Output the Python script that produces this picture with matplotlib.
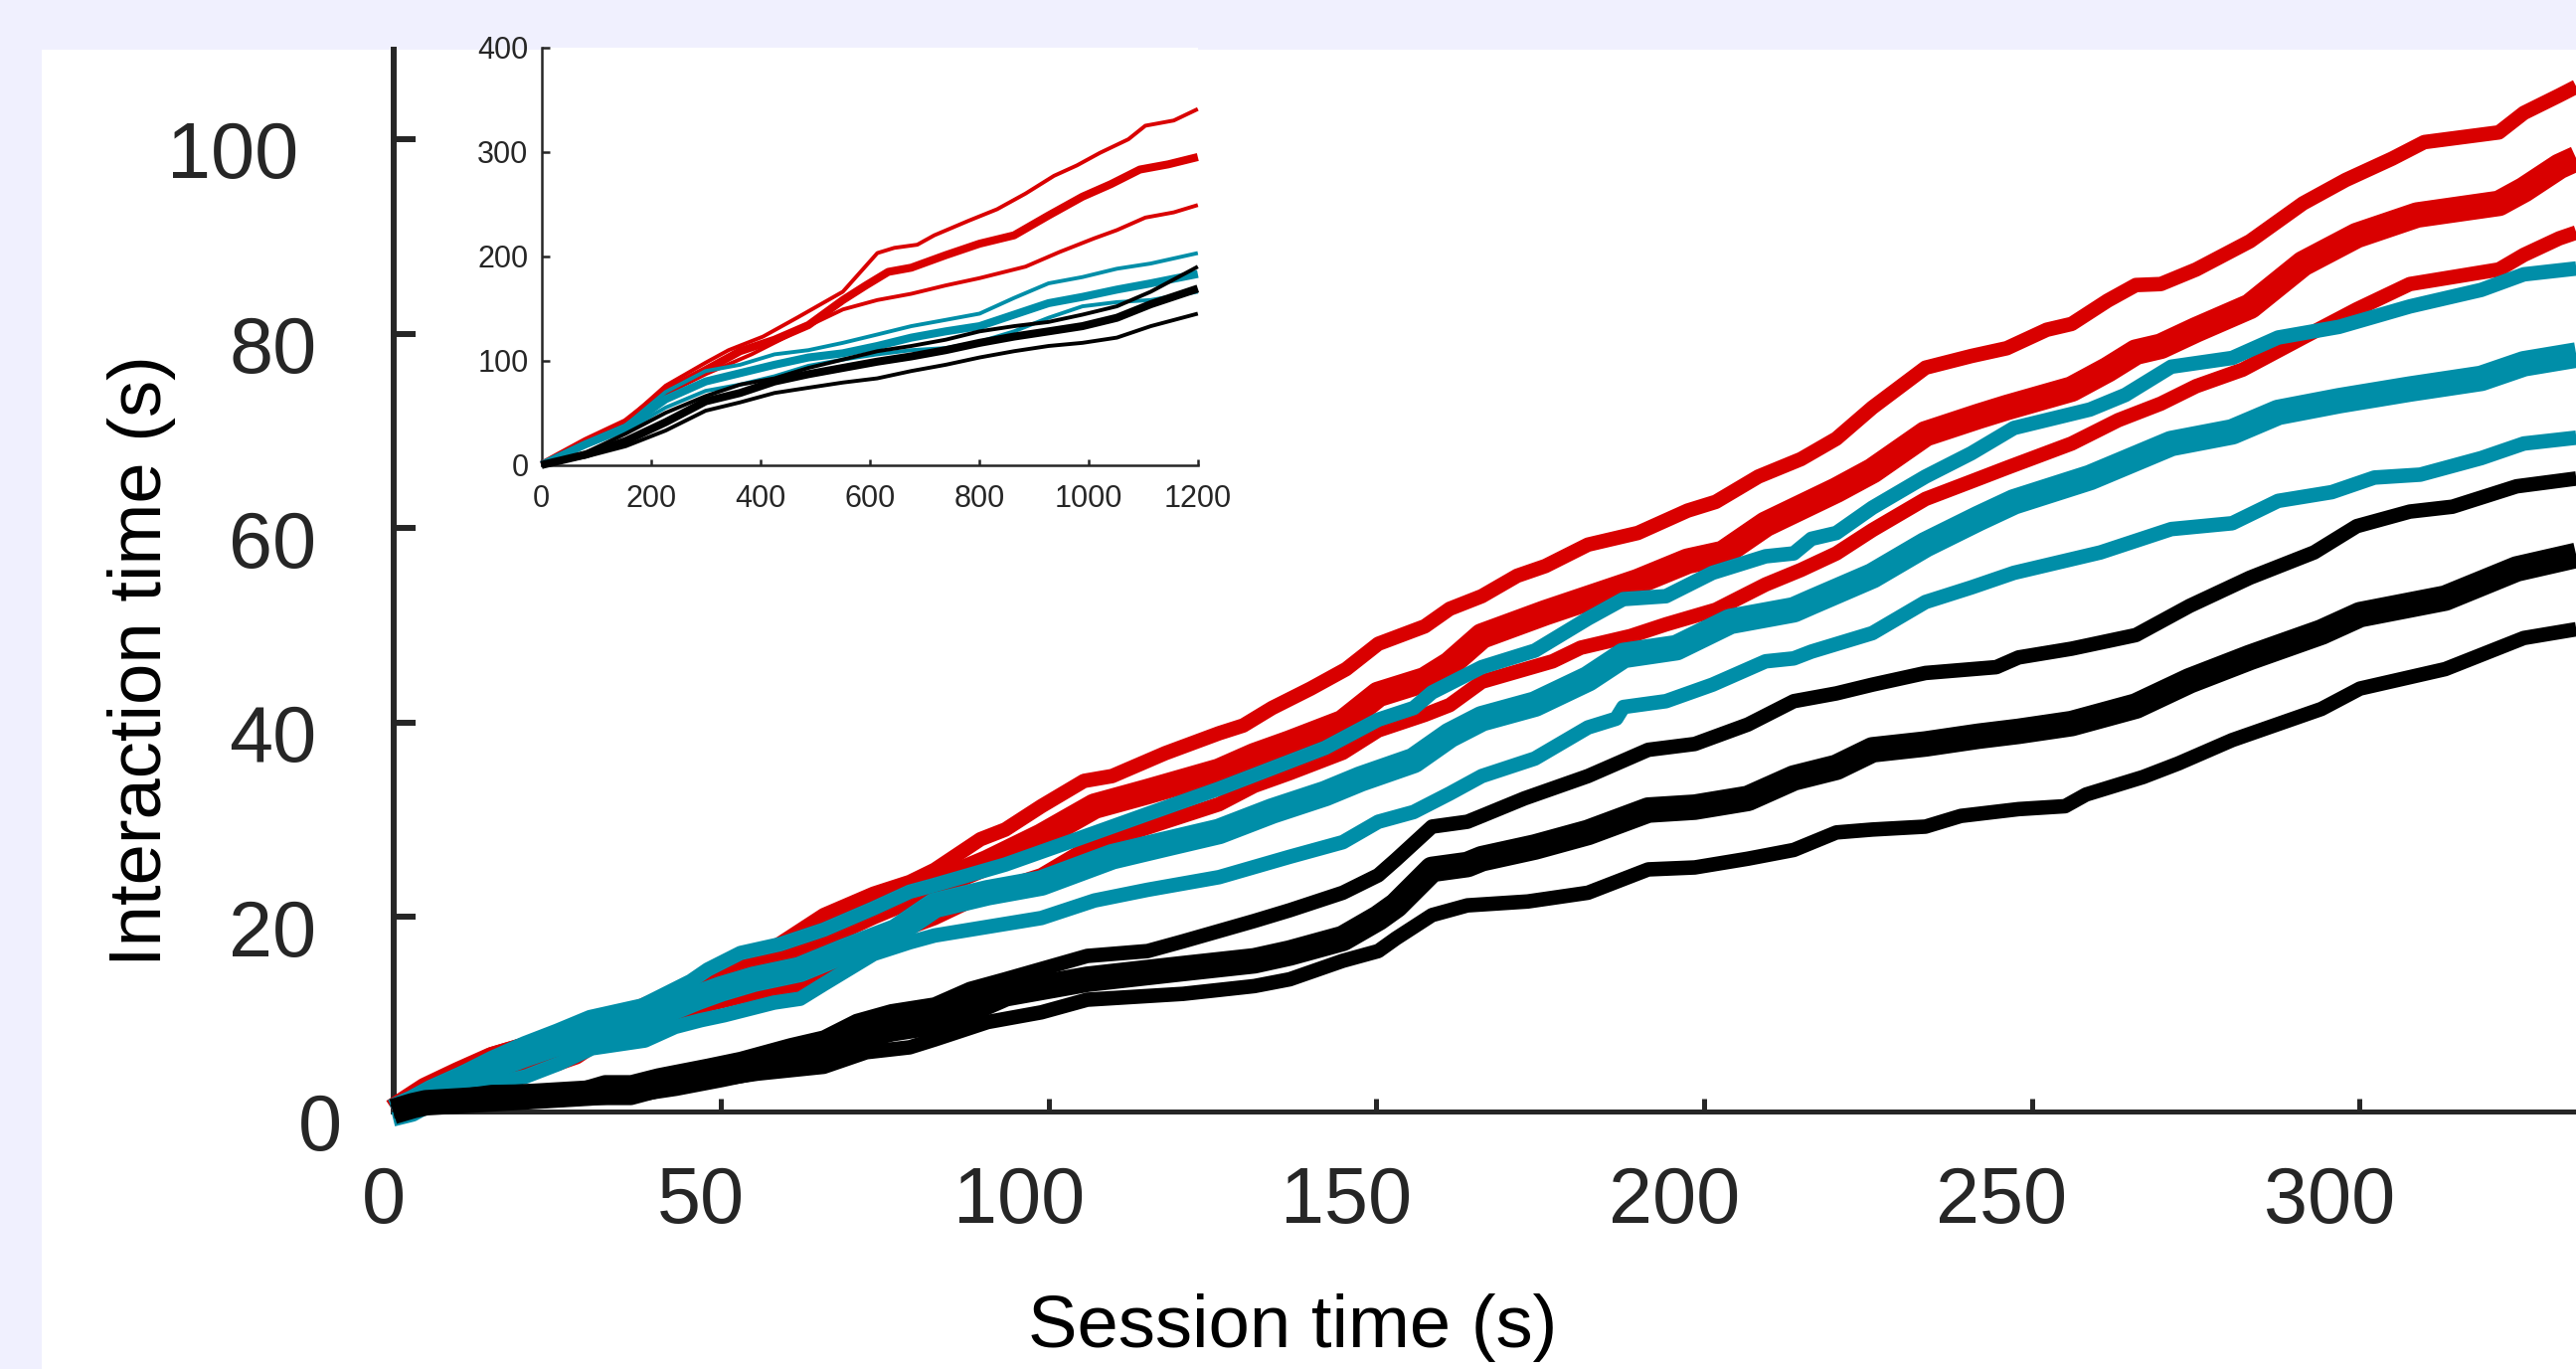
import matplotlib
matplotlib.use("Agg")
import matplotlib.pyplot as plt
from matplotlib.patches import Rectangle

# ---------------- data ----------------
# main panel: session time (s) vs interaction time (s)
red_top = [(0, 0), (2.5, 0.8), (5, 2.0), (10, 3.7), (15, 5.9), (20, 6.9), (24, 7.6), (30, 8.9), (37, 10.5),
           (43, 12.3), (50, 14.5), (56, 16.0), (59.1, 17.3), (65.7, 20.2), (73.3, 22.4), (78.8, 23.6),
           (82.6, 24.85), (89.6, 28.0), (93.4, 29.0),
           (98.9, 31.4), (105.4, 34.0), (109.7, 34.5), (117.8, 36.85), (126.0, 38.9), (129.7, 39.7), (134.1, 41.5),
           (140.0, 43.5), (145.4, 45.5), (150.3, 48.1), (157.4, 49.9), (161.2, 51.7), (166.1, 53.0), (171.5, 55.1),
           (175.8, 56.1), (182.3, 58.3), (189.9, 59.5), (197.5, 61.8), (201.8, 62.7), (208.3, 65.3), (214.8, 67.1),
           (220.2, 69.2), (225.7, 72.4), (233.8, 76.5), (240.8, 77.7), (246.2, 78.5), (252.3, 80.4), (256.1, 81.0),
           (261.6, 83.4), (265.9, 85.0), (269.7, 85.1), (275.1, 86.6), (283.3, 89.5), (291.4, 93.4), (297.9, 95.8),
           (305.0, 98.0), (309.9, 99.7), (321.3, 100.7), (325.1, 102.7), (330.5, 104.5), (333.1, 105.4)]
red_mid = [(0, 0), (5, 2.2), (10, 3.8), (15, 5.3), (20, 6.3), (25, 7.3), (30, 8.4), (37, 10.0), (44, 12.0),
           (50, 14.0), (55, 15.0), (59, 15.8), (65, 18.0), (73, 20.5), (78, 21.9), (82.6, 23.3), (90.7, 25.6),
           (98.9, 28.3),
           (107.0, 31.4), (115.1, 32.9), (126.0, 35.0), (131.4, 36.6), (136.8, 37.9), (144.9, 40.0), (150.3, 42.9),
           (157.4, 44.4), (161.2, 46.0), (166.1, 48.9), (175.8, 51.3), (189.9, 54.5), (197.5, 56.6), (202.9, 57.4),
           (209.4, 60.4), (220.2, 63.9), (225.7, 65.9), (233.8, 69.7), (241.9, 71.5), (246.2, 72.4), (256.1, 74.3),
           (261.6, 76.3), (265.9, 78.1), (269.7, 78.7), (275.1, 80.4), (283.3, 82.8), (291.4, 87.2), (299.6, 90.1),
           (308.8, 92.2), (321.3, 93.4), (325.1, 94.8), (330.5, 97.2), (333.1, 98.0)]
red_low = [(0, 0), (5, 1.8), (10, 3.0), (16, 3.8), (22, 4.3), (25, 4.9), (28, 5.6), (30, 6.5), (38, 8.5),
           (43, 9.6), (48, 11.0), (53, 11.8), (60, 12.5), (65, 13.8), (71, 16.5), (79, 19.0), (82.6, 19.9),
           (90.7, 22.5), (98.9, 24.3),
           (105.4, 26.9), (109.7, 28.0), (117.8, 29.8), (126.0, 31.6), (131.4, 33.5), (136.8, 34.8), (144.9, 36.9),
           (150.3, 39.2), (157.4, 40.8), (161.2, 41.8), (166.1, 44.2), (176.9, 46.3), (181.2, 47.7), (188.8, 48.9),
           (194.2, 50.1), (201.8, 51.6), (209.4, 54.2), (214.8, 55.7), (220.2, 57.4), (225.7, 59.8), (233.8, 63.0),
           (240.8, 64.8), (246.2, 66.2), (256.1, 68.7), (263.2, 71.1), (269.7, 72.8), (275.1, 74.6), (282.2, 76.3),
           (291.4, 79.6), (299.6, 82.5), (307.7, 85.1), (321.3, 86.6), (325.1, 88.1), (330.5, 89.8), (333.1, 90.4)]
teal_top = [(0, 0), (3, 1.2), (6, 2.5), (10, 3.8), (15, 5.5), (20, 7.0), (25, 8.3), (30, 9.7), (38, 10.9),
            (45.4, 13.4), (48, 14.6), (53, 16.3), (59, 17.2), (65.7, 18.7), (73.3, 20.9), (78.8, 22.6),
            (82.6, 23.3), (93.4, 25.4), (104.3, 28.0), (115.1, 30.6), (126.0, 33.2), (134.1, 35.3), (142.2, 37.4),
            (150.3, 40.3), (155.7, 41.5), (158.5, 43.1), (166.1, 45.7), (174.2, 47.4), (182.3, 50.7), (187.7, 52.7),
            (194.2, 53.0), (201.3, 55.4), (209.4, 57.1), (213.7, 57.4), (216.4, 58.9), (220.2, 59.5), (225.7, 62.1),
            (233.8, 65.3), (240.8, 67.7), (247.3, 70.3), (258.9, 72.2), (264.3, 73.7), (271.3, 76.6), (280.6, 77.5),
            (287.6, 79.6), (296.9, 80.7), (307.7, 82.8), (318.6, 84.5), (325.1, 86.1), (333.1, 86.7)]
teal_mid = [(0, 0), (3, 0.9), (6, 2.0), (10, 3.2), (15, 4.6), (20.2, 5.9), (25, 7.0), (30.7, 8.2), (37.6, 9.2),
            (42, 10.5), (46.3, 11.7), (50, 12.6), (55, 13.6), (62, 14.6), (68.9, 16.5), (76.7, 18.5), (82.6, 21.2),
            (90.7, 22.5), (98.9, 23.5), (109.7, 26.2), (117.8, 27.5), (126.0, 28.8), (134.1, 30.9), (142.2, 32.7),
            (147.6, 34.2), (155.7, 36.1), (161.2, 38.7), (166.1, 40.4), (174.2, 41.9), (182.3, 44.5), (187.7, 46.9),
            (195.8, 47.7), (204.0, 50.4), (213.7, 51.6), (216.4, 52.4), (225.7, 55.1), (233.8, 58.3), (241.9, 61.0),
            (247.3, 62.7), (258.9, 65.2), (271.3, 68.7), (280.6, 69.9), (287.6, 71.9), (296.9, 73.1), (307.7, 74.3),
            (318.6, 75.4), (325.1, 76.9), (333.1, 77.8)]
teal_low = [(0, -0.8), (3, -0.3), (6, 0.8), (10, 2.0), (15, 2.8), (20.2, 3.6), (25.2, 4.9), (30.3, 6.5),
            (38.4, 7.3), (43, 8.7), (47, 9.4), (50.5, 9.9), (58.1, 11.2), (62.1, 11.6), (65.7, 13.1), (73.3, 16.2),
            (78.8, 17.4), (82.6, 18.1),
            (98.9, 19.9), (107.0, 21.7), (115.1, 22.8), (126.0, 24.1), (136.8, 26.2), (144.9, 27.7), (150.3, 29.8),
            (155.7, 30.8), (161.2, 32.7), (166.1, 34.5), (174.2, 36.3), (182.3, 39.5), (186.6, 40.4), (187.7, 41.6),
            (194.2, 42.2), (201.3, 43.9), (209.4, 46.3), (213.7, 46.6), (216.4, 47.3), (225.7, 49.2), (233.8, 52.4),
            (240.8, 53.9), (247.3, 55.4), (260.5, 57.5), (271.3, 59.9), (280.6, 60.5), (287.6, 62.8), (295.8, 63.7),
            (302.3, 65.2), (309.3, 65.5), (318.6, 67.2), (325.1, 68.7), (333.1, 69.3)]
black_top = [(0, 0), (3, 0.9), (5, 1.1), (15, 2.0), (28, 2.15), (32.3, 3.0), (36.3, 3.0), (40.4, 3.7), (48, 4.7),
             (53, 5.4), (60.6, 6.8), (65.7, 7.6), (70.7, 9.3), (76, 10.3), (82.6, 11.0), (88.0, 12.6), (93.4, 13.6),
             (105.9, 16.0),
             (115.1, 16.5), (120.5, 17.5), (131.4, 19.6), (136.8, 20.7), (144.9, 22.5), (150.3, 24.3), (153.0, 25.9),
             (158.5, 29.3), (163.9, 29.8), (166.1, 30.4), (172.6, 32.2), (182.3, 34.5), (191.5, 37.2), (198.6, 37.8),
             (206.7, 39.8), (213.7, 42.2), (220.2, 43.0), (225.7, 43.9), (233.8, 45.1), (244.6, 45.7), (248.0, 46.7),
             (256.1, 47.6), (265.9, 49.0), (274.1, 52.0), (283.3, 54.9), (293.1, 57.5), (299.6, 60.2), (307.7, 61.7),
             (314.2, 62.2), (324.0, 64.3), (333.1, 65.1)]
black_mid = [(0, 0), (3, 0.6), (5, 0.9), (15, 1.3), (30, 1.9), (36, 2.2), (43, 2.9), (50, 3.8), (55, 4.5),
             (60, 5.4), (65, 6.2), (70, 7.5), (76, 8.5), (82.6, 9.2), (88.0, 10.5), (93.4, 12.1), (105.9, 13.6),
             (120.5, 14.7), (131.4, 15.5), (136.8, 16.3), (144.9, 17.8), (150.3, 19.9), (153.0, 21.2), (158.5, 24.9),
             (163.9, 25.4), (166.1, 26.0), (174.2, 27.2), (182.3, 28.7), (191.5, 31.0), (198.6, 31.3), (206.7, 32.2),
             (213.7, 34.3), (220.2, 35.4), (225.7, 37.2), (233.8, 37.8), (241.9, 38.6), (248.0, 39.1), (256.1, 39.9),
             (265.9, 41.7), (274.1, 44.3), (283.3, 46.7), (294.2, 49.3), (300.1, 51.1), (313.1, 52.8), (324.0, 55.8),
             (333.1, 57.2)]
black_low = [(0, 0), (3, 0.4), (10, 0.7), (20, 1.0), (30, 1.4), (36.3, 1.4), (43, 2.6), (50.5, 3.4), (55.6, 3.9),
             (65.7, 4.6), (72.2, 6.1), (78.8, 6.6), (82.6, 7.4), (90.7, 9.2), (98.9, 10.2), (105.9, 11.5),
             (120.5, 12.1), (131.4, 12.9), (136.8, 13.6), (144.9, 15.5), (150.3, 16.5), (153.0, 17.8), (158.5, 20.2),
             (163.9, 21.2), (173.1, 21.6), (182.3, 22.5), (191.5, 24.9), (198.6, 25.1), (206.7, 26.0), (213.7, 26.9),
             (220.2, 28.7), (225.7, 29.0), (233.8, 29.3), (239.2, 30.4), (248.0, 31.1), (255.1, 31.4), (258.3, 32.6),
             (267.0, 34.4), (272.4, 35.8), (280.6, 38.2), (294.2, 41.4), (300.1, 43.5), (313.1, 45.5), (325.1, 48.7),
             (333.1, 49.6)]

# inset panel: full 1200 s session
in_red_top = [(0, 0), (81, 23), (154, 42), (227, 76), (300, 98), (342, 110), (405, 123), (467, 141), (551, 166),
              (614, 203), (645, 208), (687, 211), (718, 220), (781, 234), (833, 245), (885, 260), (937, 277),
              (979, 287), (1021, 299), (1073, 312), (1104, 325), (1156, 330), (1200, 341)]
in_red_mid = [(0, 0), (81, 23), (154, 41), (227, 71), (300, 91), (363, 109), (426, 120), (488, 134), (551, 158),
              (593, 172), (634, 185), (676, 189), (739, 201), (801, 212), (864, 220), (927, 239), (989, 257),
              (1041, 269), (1094, 283), (1146, 288), (1200, 295)]
in_red_low = [(0, 0), (81, 22), (154, 39), (227, 68), (300, 87), (384, 106), (467, 128), (551, 149), (614, 158),
              (676, 164), (739, 172), (801, 179), (885, 190), (947, 204), (1010, 217), (1052, 225), (1104, 237),
              (1156, 242), (1200, 249)]
in_teal_top = [(0, 0), (81, 21), (154, 38), (227, 70), (300, 90), (363, 96), (426, 106), (488, 110), (551, 117),
               (614, 125), (676, 133), (739, 139), (801, 145), (864, 160), (927, 174), (989, 180), (1052, 188),
               (1114, 193), (1200, 203)]
in_teal_mid = [(0, 0), (81, 20), (154, 36), (227, 63), (300, 80), (363, 88), (426, 96), (488, 103), (551, 107),
               (614, 114), (676, 122), (739, 128), (801, 133), (864, 144), (927, 155), (989, 161), (1052, 168),
               (1114, 174), (1200, 183)]
in_teal_low = [(0, 0), (81, 18), (154, 33), (227, 55), (300, 71), (363, 77), (426, 85), (488, 95), (551, 101),
               (614, 106), (676, 110), (739, 112), (801, 118), (864, 128), (927, 141), (989, 152), (1052, 156),
               (1114, 158), (1200, 166)]
in_black_top = [(0, 0), (81, 12), (154, 30), (227, 50), (300, 66), (363, 77), (426, 83), (488, 93), (551, 101),
                (614, 109), (676, 114), (739, 120), (801, 128), (864, 133), (927, 137), (989, 144), (1052, 152),
                (1114, 166), (1200, 190)]
in_black_mid = [(0, 0), (81, 10), (154, 23), (227, 41), (300, 61), (363, 69), (426, 80), (488, 87), (551, 93),
                (614, 99), (676, 104), (739, 110), (801, 117), (864, 123), (927, 128), (989, 133), (1052, 141),
                (1114, 154), (1200, 169)]
in_black_low = [(0, 0), (81, 8), (154, 18), (227, 33), (300, 52), (363, 60), (426, 69), (488, 74), (551, 79),
                (614, 83), (676, 90), (739, 96), (801, 103), (864, 109), (927, 114), (989, 117), (1052, 122),
                (1114, 133), (1200, 145)]

main_xticks = [0, 50, 100, 150, 200, 250, 300]
main_yticks = [0, 20, 40, 60, 80, 100]
inset_xticks = [0, 200, 400, 600, 800, 1000, 1200]
inset_yticks = [0, 100, 200, 300, 400]
xlabel_text = "Session time (s)"
ylabel_text = "Interaction time (s)"

# ---------------- style ----------------
W, H, DPI = 2591, 1377, 100
RED, TEAL, BLACK = "#D90000", "#008EA8", "#000000"
AX_COL = "#262626"
BG = "#F0F0FE"
FONT = "Liberation Sans"

fig = plt.figure(figsize=(W / DPI, H / DPI), dpi=DPI, facecolor=BG)
fig.add_artist(Rectangle((42 / W, 0), 1, (H - 50) / H, transform=fig.transFigure,
                         facecolor="white", edgecolor="none", zorder=-5))

# ---------------- main axes ----------------
x0_px, xaxis_px, top_px = 395.5, 1118, 50
px_per_x, px_per_y = 6.592, 9.78
ax = fig.add_axes([x0_px / W, (H - xaxis_px) / H, (W - x0_px) / W, (xaxis_px - top_px) / H])
ax.set_facecolor("none")
ax.set_xlim(0, (W - x0_px) / px_per_x)
ax.set_ylim(0, (xaxis_px - top_px) / px_per_y)

groups = [(RED, red_top, red_mid, red_low), (TEAL, teal_top, teal_mid, teal_low),
          (BLACK, black_top, black_mid, black_low)]
for z, (col, top, mid, low) in enumerate(groups):
    for series, lw in ((mid, 18.5), (top, 10.5), (low, 10.5)):
        xs, ys = zip(*series)
        ax.plot(xs, ys, color=col, lw=lw, clip_on=False, zorder=3 + z,
                solid_joinstyle="round", solid_capstyle="butt")

for s in ("top", "right"):
    ax.spines[s].set_visible(False)
ax.spines["left"].set_linewidth(4.3)
ax.spines["bottom"].set_linewidth(3.6)
for s in ("left", "bottom"):
    ax.spines[s].set_color(AX_COL)
    ax.spines[s].set_zorder(2)
ax.set_xticks(main_xticks)
ax.set_yticks(main_yticks)
ax.tick_params(axis="x", direction="in", length=9.4, width=3.6, color=AX_COL, labelbottom=False)
ax.tick_params(axis="y", direction="in", length=15.5, width=4.3, color=AX_COL, labelleft=False)

for v in main_xticks:
    lab = str(v)
    ax.annotate(lab, xy=(v, 0), xycoords=("data", "axes fraction"),
                xytext=(-10 * len(lab), -112), textcoords="offset pixels",
                ha="center", va="baseline", fontsize=57, family=FONT, color=AX_COL,
                annotation_clip=False)
yshift = {1: -52, 2: -77, 3: -95}
for v in main_yticks:
    lab = str(v)
    ax.annotate(lab, xy=(0, v), xycoords=("axes fraction", "data"),
                xytext=(yshift[len(lab)], -39.5), textcoords="offset pixels",
                ha="right", va="baseline", fontsize=57, family=FONT, color=AX_COL,
                annotation_clip=False)

fig.text(1300 / W, (H - 1355) / H, xlabel_text, ha="center", va="baseline",
         fontsize=53.5, family=FONT, color=BLACK)
fig.text(162 / W, (H - 665) / H, ylabel_text, rotation=90, rotation_mode="anchor",
         ha="center", va="baseline", fontsize=53.5, family=FONT, color=BLACK)

# ---------------- inset ----------------
in_l, in_r, in_t, in_b = 544.7, 1204.8, 47.7, 467.7
axi = fig.add_axes([in_l / W, (H - in_b) / H, (in_r - in_l) / W, (in_b - in_t) / H])
axi.set_facecolor("white")
axi.set_xlim(0, 1200)
axi.set_ylim(0, 400)
in_groups = [(RED, in_red_top, in_red_mid, in_red_low), (TEAL, in_teal_top, in_teal_mid, in_teal_low),
             (BLACK, in_black_top, in_black_mid, in_black_low)]
for z, (col, top, mid, low) in enumerate(in_groups):
    for series, lw in ((mid, 5.8), (top, 2.8), (low, 2.8)):
        xs, ys = zip(*series)
        axi.plot(xs, ys, color=col, lw=lw, clip_on=False, zorder=3 + z,
                 solid_joinstyle="round", solid_capstyle="butt")
for s in ("top", "right"):
    axi.spines[s].set_visible(False)
for s in ("left", "bottom"):
    axi.spines[s].set_color(AX_COL)
    axi.spines[s].set_linewidth(1.8)
axi.set_xticks(inset_xticks)
axi.set_yticks(inset_yticks)
axi.set_xticklabels([str(v) for v in inset_xticks])
axi.set_yticklabels([str(v) for v in inset_yticks])
axi.tick_params(axis="x", direction="in", length=4.3, width=1.8, color=AX_COL, pad=14,
                labelsize=22, labelcolor=AX_COL)
axi.tick_params(axis="y", direction="in", length=5.8, width=1.8, color=AX_COL, pad=9.5,
                labelsize=22, labelcolor=AX_COL)
for lab in axi.get_xticklabels() + axi.get_yticklabels():
    lab.set_family(FONT)

fig.savefig("out.png", dpi=DPI, facecolor=BG)
